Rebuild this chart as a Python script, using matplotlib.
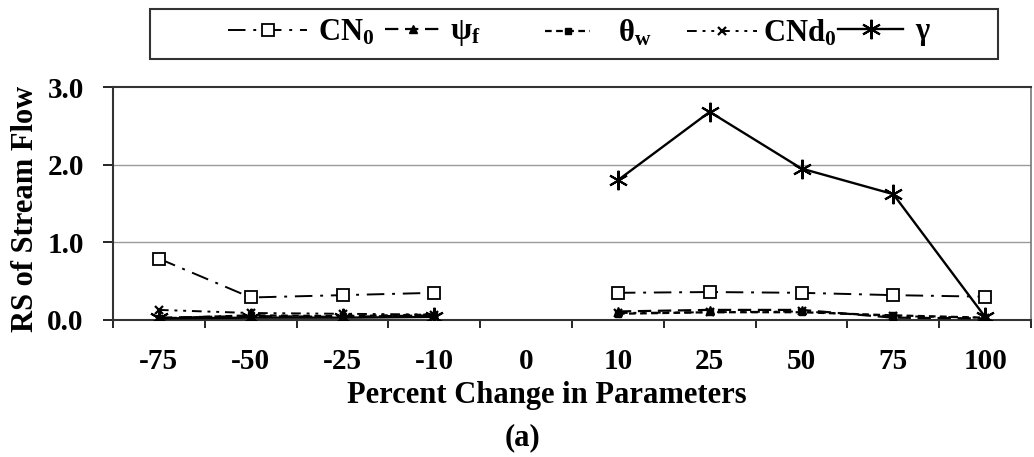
import numpy as np
import matplotlib
matplotlib.use("Agg")
import matplotlib.pyplot as plt
from matplotlib.patches import Rectangle

plt.rcParams['font.family'] = ['Liberation Serif', 'DejaVu Serif']
plt.rcParams['font.weight'] = 'bold'
plt.rcParams['mathtext.fontset'] = 'custom'
plt.rcParams['mathtext.rm'] = 'Liberation Serif:bold'
plt.rcParams['mathtext.bf'] = 'Liberation Serif:bold'
plt.rcParams['mathtext.it'] = 'Liberation Serif:bold'

# Percent change applied to each parameter (categorical axis)
categories = ["-75", "-50", "-25", "-10", "0", "10", "25", "50", "75", "100"]

# Relative sensitivity of stream flow for each parameter
cn0 = [0.79, 0.29, 0.32, 0.35, np.nan, 0.35, 0.36, 0.35, 0.32, 0.30]
psi_f = [0.03, 0.05, 0.04, 0.06, np.nan, 0.11, 0.13, 0.13, 0.03, 0.02]
theta_w = [0.02, 0.06, 0.05, 0.07, np.nan, 0.08, 0.10, 0.10, 0.06, 0.03]
cnd0 = [0.13, 0.09, 0.08, 0.07, np.nan, 0.09, 0.10, 0.11, 0.05, 0.03]
gamma = [0.02, 0.03, 0.03, 0.04, np.nan, 1.80, 2.68, 1.95, 1.62, 0.04]

labels = [r"CN$_\mathbf{0}$", r"$\mathbf{\psi_f}$", r"$\mathbf{\theta_w}$",
          r"CNd$_\mathbf{0}$", r"$\mathbf{\gamma}$"]

W, H = 1034, 457
fig = plt.figure(figsize=(W / 100, H / 100), dpi=100)
ax = fig.add_axes([113 / W, 1 - 320 / H, 918 / W, 233 / H])

x = np.arange(len(categories))
star = (6, 2, 0)

styles = [
    dict(data=cn0, ls=(0, (9, 4, 1.5, 4)), marker='s', ms=8.5, mfc='white', mew=1.3, lw=1.4),
    dict(data=psi_f, ls=(0, (6, 3)), marker='^', ms=5.5, mfc='black', mew=1.0, lw=1.6),
    dict(data=theta_w, ls=(0, (3, 2)), marker='s', ms=4, mfc='black', mew=1.0, lw=1.6),
    dict(data=cnd0, ls=(0, (5, 3, 1.5, 3, 1.5, 3)), marker='x', ms=5.5, mfc='black', mew=1.6, lw=1.4),
    dict(data=gamma, ls='-', marker=star, ms=14, mfc='black', mew=1.5, lw=1.7),
]

handles = []
for st, lab in zip(styles, labels):
    line, = ax.plot(x, st['data'], color='black', linestyle=st['ls'], lw=st['lw'],
                    marker=st['marker'], markersize=st['ms'],
                    markerfacecolor=st['mfc'], markeredgecolor='black',
                    markeredgewidth=st['mew'], label=lab, zorder=3)
    handles.append(line)

ax.set_xlim(-0.5, len(categories) - 0.5)
ax.set_ylim(0, 3.0)
ax.set_yticks([0, 1, 2, 3])
ax.set_yticklabels(["0.0", "1.0", "2.0", "3.0"])
ax.set_xticks(x)
ax.set_xticklabels(categories)
ax.set_xticks(np.arange(-0.5, len(categories), 1.0), minor=True)
ax.tick_params(axis='x', which='major', length=0, pad=20, labelsize=21)
ax.tick_params(axis='x', which='minor', length=6, width=1.2, direction='out')
ax.tick_params(axis='y', which='major', length=7, width=1.2, direction='out',
               labelsize=21, pad=14)

for yv in [1, 2]:
    ax.axhline(yv, color='#9a9a9a', lw=1.0, zorder=1)

for side in ['left', 'bottom', 'top']:
    ax.spines[side].set_linewidth(1.5)
    ax.spines[side].set_color('#333333')
ax.spines['right'].set_color('#777777')
ax.spines['right'].set_linewidth(1.2)

ax.set_ylabel("RS of Stream Flow", fontsize=22, fontweight='bold')
ax.yaxis.set_label_coords(-0.0795, 0.476)
ax.set_xlabel("Percent Change in Parameters", fontsize=22, fontweight='bold')
ax.xaxis.set_label_coords(0.473, -0.262)
fig.text(0.505, 1 - 438 / H, "(a)", ha='center', va='center', fontsize=22,
         fontweight='bold')

# Legend entries placed one by one along the boxed strip above the plot
fs = 22
em = fs * 100 / 72
entry_start = [228, 385, 545, 687, 838]
entry_handle = [79, 55, 45, 70, 65]
entry_textpad = [11, 10, 28, 6, 12]
for h, lab, x0, hl, tp in zip(handles, labels, entry_start, entry_handle, entry_textpad):
    fig.legend(handles=[h], labels=[lab], loc='center left',
               bbox_to_anchor=(x0 / W, 1 - 33 / H), frameon=False, fontsize=fs,
               borderpad=0, borderaxespad=0, handlelength=hl / em,
               handletextpad=tp / em, numpoints=1)
fig.patches.append(Rectangle((150 / W, 1 - 59 / H), 848 / W, 50 / H,
                             transform=fig.transFigure, fill=False,
                             edgecolor='#333333', lw=1.5))

fig.savefig("out.png", dpi=100)
